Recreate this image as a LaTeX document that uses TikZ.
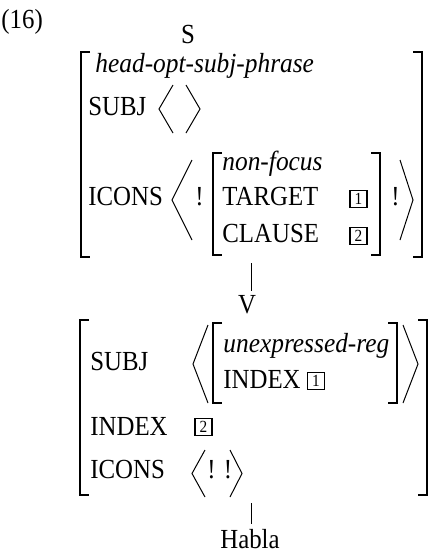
\documentclass[tikz,border=0pt]{standalone}
\usepackage{fontspec}
\setmainfont{Liberation Serif}[FakeStretch=0.9, ItalicFeatures={FakeStretch=0.92}]
\usepackage{tikz}
\usetikzlibrary{positioning}
\tikzset{
  lbl/.style={anchor=base west, inner sep=0pt},
  cat/.style={anchor=base, inner sep=2pt},
  tagbox/.style={draw, line width=0.75pt, inner sep=0pt, minimum size=8.7pt,
                 font=\fontsize{8.5}{8.5}\selectfont},
  brak/.style={line width=0.8pt},
  angl/.style={line width=0.5pt},
  edge/.style={line width=0.5pt},
}
% brackets: x, top, bottom
\newcommand{\lbrak}[3]{\draw[brak] (#1+9,#2) -- (#1,#2) -- (#1,#3) -- (#1+9,#3);}
\newcommand{\rbrak}[3]{\draw[brak] (#1-9,#2) -- (#1,#2) -- (#1,#3) -- (#1-9,#3);}
% angle bracket: tip x, open x, top, bottom
\newcommand{\avmangle}[4]{\draw[angl] (#2,#3) -- (#1,{(#3+#4)/2}) -- (#2,#4);}

\begin{document}
\begin{tikzpicture}[x=0.5pt, y=-0.5pt, font=\fontsize{13.8}{16}\selectfont]
\useasboundingbox (0,0) rectangle (430,552);
\node[lbl] (exnum) at (1,28) {(16)};
% S: head-opt-subj-phrase
\node[cat] (snode) at (188,43) {S};
\lbrak{81}{52}{257} \rbrak{422}{52}{257}
\node[lbl] (stype) at (95,72) {\textit{head-opt-subj-phrase}};
\node[lbl] (ssubj) at (88,115) {SUBJ};
\avmangle{159}{173}{85}{133}
\avmangle{200}{186}{85}{133}
\node[lbl] (sicons) at (88,205) {ICONS};
\avmangle{172}{192}{160}{240}
\node[lbl] (sbang) at (195,205) {!};
\lbrak{213}{153}{255} \rbrak{380}{153}{255}
\node[lbl] (nfocus) at (222,170) {\textit{non-focus}};
\node[lbl] (target) at (222,205) {TARGET};
\node[lbl] (clause) at (222,242) {CLAUSE};
\node[tagbox] (tagi) at (358.5,199) {1};
\node[tagbox] (tagii) at (358.5,236) {2};
\node[lbl] (sbangr) at (391,205) {!};
\avmangle{413}{400}{160}{240}
\coordinate (sfoot) at (251,263);
% V: Habla
\node[cat] (vnode) at (247,313) {V};
\draw[edge] (sfoot) -- (sfoot |- vnode.north);
\lbrak{80}{320}{495} \rbrak{427}{320}{495}
\node[lbl] (vsubj) at (90,370) {SUBJ};
\avmangle{193}{208}{325}{403}
\lbrak{213}{323}{403} \rbrak{397}{323}{403}
\node[lbl] (utype) at (223,352) {\textit{unexpressed-reg}};
\node[lbl] (uindex) at (223,388) {INDEX};
\node[tagbox] (utag) at (316,381) {1};
\avmangle{418}{403}{325}{403}
\node[lbl] (vindex) at (90,435) {INDEX};
\node[tagbox] (vtag) at (203.5,427) {2};
\node[lbl] (vicons) at (90,478) {ICONS};
\avmangle{192}{205}{450}{497}
\node[lbl] (vbang) at (207,478) {! !};
\avmangle{242}{230}{450}{497}
\coordinate (vfoot) at (251,503);
\node[cat] (habla) at (250,548) {Habla};
\draw[edge] (vfoot) -- (vfoot |- habla.north);
\end{tikzpicture}
\end{document}
